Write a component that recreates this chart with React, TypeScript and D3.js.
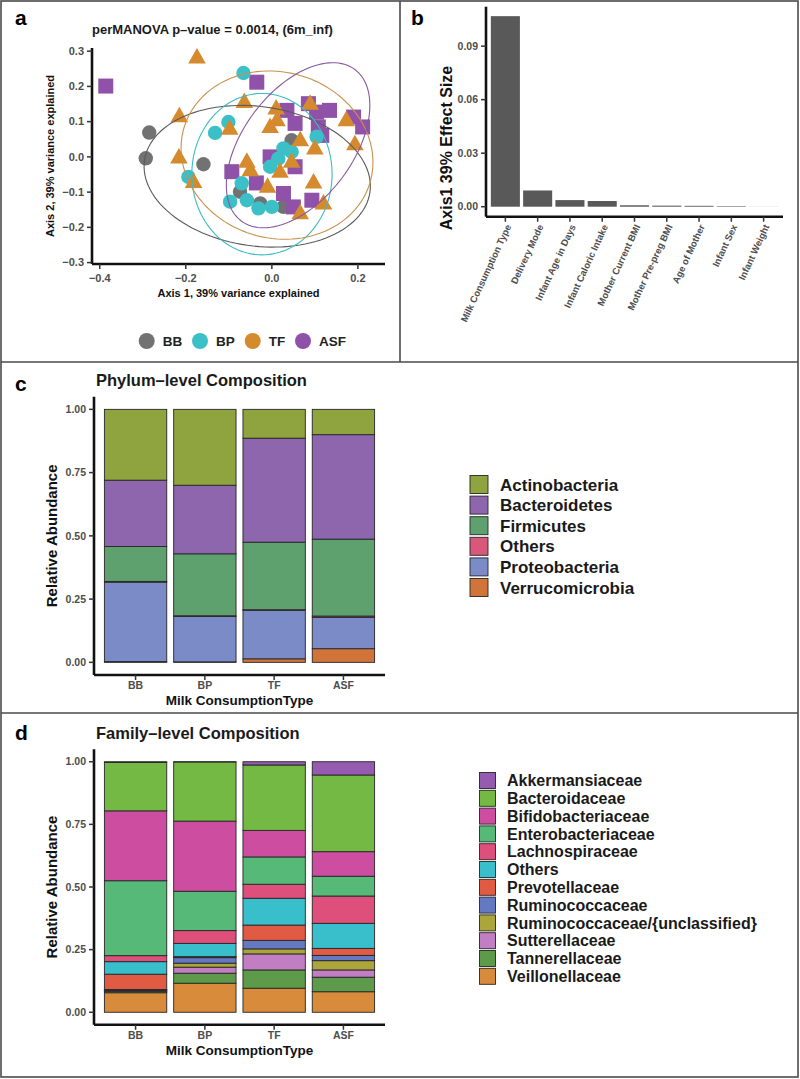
import React from 'react';
import * as d3 from 'd3';

const FONT = "'Liberation Sans', Arial, Helvetica, sans-serif";
const TICK_COL = '#4d4d4d';

// ---------- Panel a: PCoA ----------
const groups = ['BB', 'BP', 'TF', 'ASF'];
const groupColors = ['#727272', '#3cc0c8', '#d68a2e', '#8f52a8'];
const ellipseColors = ['#5a5a5a', '#3cbcc6', '#c8924a', '#87589e'];

const bbX = [-0.285, -0.293, -0.159, 0.046, -0.074, -0.027, 0.027];
const bbY = [0.069, -0.004, -0.021, 0.047, -0.099, -0.132, -0.142];
const bpX = [-0.066, -0.101, -0.132, -0.194, 0.104, 0.027, 0.046, -0.004, -0.07, -0.097, -0.058, -0.031, 0.0, 0.015];
const bpY = [0.238, 0.099, 0.068, -0.057, 0.057, 0.024, 0.014, -0.028, -0.075, -0.127, -0.123, -0.146, -0.142, -0.005];
const tfX = [-0.174, -0.215, -0.216, -0.182, -0.064, -0.098, 0.01, -0.004, 0.012, 0.089, 0.173, 0.193, 0.066, 0.1, -0.058, 0.046, 0.019, 0.097, -0.01, 0.12, 0.066, -0.05];
const tfY = [0.282, 0.115, -0.002, -0.071, 0.156, 0.08, 0.137, 0.085, 0.104, 0.151, 0.104, 0.036, 0.047, 0.024, -0.014, -0.014, -0.042, -0.073, -0.085, -0.132, -0.16, -0.038];
const asfX = [-0.386, -0.035, 0.035, 0.054, 0.085, 0.104, 0.134, 0.108, 0.19, 0.211, 0.116, -0.004, -0.093, 0.054, -0.036, 0.027, 0.093, 0.05];
const asfY = [0.201, 0.212, 0.132, 0.095, 0.151, 0.127, 0.132, 0.085, 0.113, 0.085, 0.061, 0.0, -0.042, -0.028, -0.074, -0.104, -0.123, -0.142];

// ellipse: centre, first and second semi-axis vectors (data units), order BB, BP, TF, ASF
const ellCX = [-0.034, -0.023, 0.012, 0.061];
const ellCY = [-0.055, -0.049, 0.005, 0.033];
const ellAX = [0.262, 0.163, 0.223, 0.132];
const ellAY = [-0.045, 0.0, -0.02, 0.215];
const ellBX = [-0.0225, 0.0, 0.0, 0.102];
const ellBY = [-0.196, 0.229, 0.238, -0.093];

const pcoaXTicks = [-0.4, -0.2, 0.0, 0.2];
const pcoaYTicks = [-0.3, -0.2, -0.1, 0.0, 0.1, 0.2, 0.3];

// ---------- Panel b: effect sizes ----------
const effectVars = ['Milk Consumption Type', 'Delivery Mode', 'Infant Age in Days', 'Infant Caloric Intake', 'Mother Current BMI', 'Mother Pre-preg BMI', 'Age of Mother', 'Infant Sex', 'Infant Weight'];
const effectSizes = [0.1068, 0.0091, 0.0037, 0.0032, 0.0008, 0.0006, 0.0005, 0.0003, 0.00005];
const effectTicks = [0.0, 0.03, 0.06, 0.09];

// ---------- Panel c: phylum composition ----------
const milkTypes = ['BB', 'BP', 'TF', 'ASF'];
const phyla = ['Actinobacteria', 'Bacteroidetes', 'Firmicutes', 'Others', 'Proteobacteria', 'Verrucomicrobia'];
const phylumColors = ['#8fa33e', '#8d66ae', '#5fa06f', '#d8577a', '#7b8bc7', '#d0743a'];
const actinobacteria = [0.280, 0.300, 0.114, 0.100];
const bacteroidetes = [0.262, 0.271, 0.411, 0.413];
const firmicutes = [0.138, 0.245, 0.267, 0.304];
const othersPhylum = [0.003, 0.002, 0.002, 0.005];
const proteobacteria = [0.314, 0.180, 0.192, 0.124];
const verrucomicrobia = [0.003, 0.002, 0.014, 0.054];
const phylumValues = [actinobacteria, bacteroidetes, firmicutes, othersPhylum, proteobacteria, verrucomicrobia];

// ---------- Panel d: family composition ----------
const families = ['Akkermansiaceae', 'Bacteroidaceae', 'Bifidobacteriaceae', 'Enterobacteriaceae', 'Lachnospiraceae', 'Others', 'Prevotellaceae', 'Ruminococcaceae', 'Ruminococcaceae/{unclassified}', 'Sutterellaceae', 'Tannerellaceae', 'Veillonellaceae'];
const familyColors = ['#955bb0', '#74b944', '#cd4ea0', '#57b978', '#de4f7c', '#38bfcb', '#e05a44', '#6579c2', '#aba53b', '#c27ec2', '#5d9a4a', '#d98b3c'];
const akkermansiaceae = [0.003, 0.001, 0.013, 0.053];
const bacteroidaceae = [0.193, 0.236, 0.261, 0.306];
const bifidobacteriaceae = [0.279, 0.280, 0.106, 0.098];
const enterobacteriaceae = [0.299, 0.157, 0.109, 0.079];
const lachnospiraceae = [0.024, 0.051, 0.056, 0.109];
const othersFamily = [0.050, 0.053, 0.107, 0.100];
const prevotellaceae = [0.061, 0.004, 0.061, 0.028];
const ruminococcaceae = [0.003, 0.022, 0.034, 0.021];
const ruminococcaceaeUnclassified = [0.002, 0.016, 0.020, 0.037];
const sutterellaceae = [0.002, 0.024, 0.064, 0.029];
const tannerellaceae = [0.006, 0.040, 0.073, 0.058];
const veillonellaceae = [0.078, 0.116, 0.096, 0.082];
const familyValues = [akkermansiaceae, bacteroidaceae, bifidobacteriaceae, enterobacteriaceae, lachnospiraceae, othersFamily, prevotellaceae, ruminococcaceae, ruminococcaceaeUnclassified, sutterellaceae, tannerellaceae, veillonellaceae];

const abundanceTicks = [0, 0.25, 0.5, 0.75, 1.0];

function Marker({ g, x, y }: { g: number; x: number; y: number }) {
  const c = groupColors[g];
  if (g <= 1) return <circle cx={x} cy={y} r={7.2} fill={c} />;
  if (g === 2) return <path d={`M${x},${y - 9.5} L${x + 8.8},${y + 6} L${x - 8.8},${y + 6} Z`} fill={c} />;
  return <rect x={x - 7.5} y={y - 7.5} width={15} height={15} fill={c} />;
}

function StackedPanel({ values, colors, y0, y1, title, titleY, tickY, xTitleY }: any) {
  const x = d3.scaleBand().domain(milkTypes).range([94, 385]).paddingInner(0.1).paddingOuter(0.15);
  const y = d3.scaleLinear().domain([-0.05, 1.05]).range([y1, y0]);
  const fmt = d3.format('.2f');
  const rects: any[] = [];
  milkTypes.forEach((m, gi) => {
    let cum = 0;
    for (let k = values.length - 1; k >= 0; k--) {
      const v = values[k][gi];
      rects.push(
        <rect key={`${m}-${k}`} x={x(m)} width={x.bandwidth()} y={y(cum + v)} height={y(cum) - y(cum + v)}
          fill={colors[k]} stroke="#262626" strokeWidth={0.9} />
      );
      cum += v;
    }
  });
  return (
    <g>
      <text x={96} y={titleY} fontSize={16.5} fontWeight="bold" fill="#1a1a1a">{title}</text>
      {rects}
      <line x1={94} x2={94} y1={y0} y2={y1} stroke="#111" strokeWidth={2.6} />
      <line x1={94} x2={385} y1={y1} y2={y1} stroke="#111" strokeWidth={2.6} />
      {abundanceTicks.map(t => (
        <g key={t}>
          <line x1={89} x2={94} y1={y(t)} y2={y(t)} stroke="#333" strokeWidth={1.5} />
          <text x={86} y={y(t)} dy="0.35em" textAnchor="end" fontSize={10.5} fontWeight="bold" fill={TICK_COL}>{fmt(t)}</text>
        </g>
      ))}
      {milkTypes.map(m => (
        <g key={m}>
          <line x1={x(m)! + x.bandwidth() / 2} x2={x(m)! + x.bandwidth() / 2} y1={y1} y2={y1 + 5} stroke="#333" strokeWidth={1.5} />
          <text x={x(m)! + x.bandwidth() / 2} y={tickY} textAnchor="middle" fontSize={10.5} fontWeight="bold" fill={TICK_COL}>{m}</text>
        </g>
      ))}
      <text x={239.5} y={xTitleY} textAnchor="middle" fontSize={13.5} fontWeight="bold" fill="#111">Milk ConsumptionType</text>
      <text transform={`translate(57,${(y0 + y1) / 2}) rotate(-90)`} textAnchor="middle" fontSize={15} fontWeight="bold" fill="#111">Relative Abundance</text>
    </g>
  );
}

export default function App() {
  // panel a scales
  const xA = d3.scaleLinear().domain([-0.418, 0.263]).range([92, 385]);
  const yA = d3.scaleLinear().domain([-0.304, 0.309]).range([264, 48]);
  const fmt1 = d3.format('.1f');
  const groupX = [bbX, bpX, tfX, asfX];
  const groupY = [bbY, bpY, tfY, asfY];
  const drawOrder = [0, 3, 1, 2];
  const ellipsePath = (i: number) => {
    const pts = d3.range(0, 121).map(k => {
      const t = (2 * Math.PI * k) / 120;
      const ex = ellCX[i] + Math.cos(t) * ellAX[i] + Math.sin(t) * ellBX[i];
      const ey = ellCY[i] + Math.cos(t) * ellAY[i] + Math.sin(t) * ellBY[i];
      return [xA(ex), yA(ey)] as [number, number];
    });
    return d3.line()(pts) + 'Z';
  };

  // panel b scales
  const xB = d3.scaleBand().domain(effectVars).range([486, 783]).paddingInner(0.1).paddingOuter(0.15);
  const yB = d3.scaleLinear().domain([-0.0056, 0.1121]).range([216.7, 6.7]);
  const fmt2 = d3.format('.2f');

  const legendC = phyla.map((p, i) => ({ p, i }));
  const legendD = families.map((f, i) => ({ f, i }));

  return (
    <svg width={800} height={1079} style={{ position: 'absolute', left: 0, top: 0, background: '#fff' }} fontFamily={FONT}>
      <rect x={0} y={0} width={800} height={1079} fill="#fff" />
      {/* frame */}
      <rect x={1} y={1} width={797} height={1076} fill="none" stroke="#4a4a4a" strokeWidth={1.6} />
      <line x1={1} x2={798} y1={362} y2={362} stroke="#4a4a4a" strokeWidth={1.6} />
      <line x1={1} x2={798} y1={713} y2={713} stroke="#4a4a4a" strokeWidth={1.6} />
      <line x1={400} x2={400} y1={1} y2={362} stroke="#4a4a4a" strokeWidth={1.6} />

      {/* panel labels */}
      <text x={15} y={25} fontSize={21} fontWeight="bold">a</text>
      <text x={411} y={25} fontSize={21} fontWeight="bold">b</text>
      <text x={15} y={391} fontSize={21} fontWeight="bold">c</text>
      <text x={15} y={740} fontSize={21} fontWeight="bold">d</text>

      {/* ---------- Panel a ---------- */}
      <text x={92} y={34} fontSize={13} fontWeight="bold" fill="#1a1a1a">perMANOVA p–value = 0.0014, (6m_inf)</text>
      {drawOrder.map(g => groupX[g].map((vx, k) => (
        <Marker key={`${g}-${k}`} g={g} x={xA(vx)} y={yA(groupY[g][k])} />
      )))}
      {groups.map((gname, i) => (
        <path key={gname} d={ellipsePath(i)} fill="none" stroke={ellipseColors[i]} strokeWidth={1.1} />
      ))}
      <line x1={92} x2={92} y1={48} y2={264} stroke="#111" strokeWidth={2.6} />
      <line x1={92} x2={385} y1={264} y2={264} stroke="#111" strokeWidth={2.6} />
      {pcoaYTicks.map(t => (
        <g key={t}>
          <line x1={87} x2={92} y1={yA(t)} y2={yA(t)} stroke="#333" strokeWidth={1.5} />
          <text x={84} y={yA(t)} dy="0.35em" textAnchor="end" fontSize={11} fontWeight="bold" fill={TICK_COL}>{fmt1(t)}</text>
        </g>
      ))}
      {pcoaXTicks.map(t => (
        <g key={t}>
          <line x1={xA(t)} x2={xA(t)} y1={264} y2={269} stroke="#333" strokeWidth={1.5} />
          <text x={xA(t)} y={282} textAnchor="middle" fontSize={11} fontWeight="bold" fill={TICK_COL}>{fmt1(t)}</text>
        </g>
      ))}
      <text x={238.5} y={297} textAnchor="middle" fontSize={11} fontWeight="bold" fill="#111">Axis 1, 39% variance explained</text>
      <text transform={`translate(54,156) rotate(-90)`} textAnchor="middle" fontSize={11} fontWeight="bold" fill="#111">Axis 2, 39% variance explained</text>
      {groups.map((gname, i) => {
        const cx = [146.7, 200, 252.7, 303][i];
        return (
          <g key={gname}>
            <circle cx={cx} cy={341} r={8} fill={groupColors[i]} />
            <text x={cx + 16} y={341} dy="0.36em" fontSize={13.5} fontWeight="bold" fill="#222">{gname}</text>
          </g>
        );
      })}

      {/* ---------- Panel b ---------- */}
      {effectVars.map((v, i) => (
        <rect key={v} x={xB(v)} width={xB.bandwidth()} y={yB(effectSizes[i])} height={yB(0) - yB(effectSizes[i])} fill="#595959" />
      ))}
      <line x1={486} x2={486} y1={6.7} y2={216.7} stroke="#111" strokeWidth={2.6} />
      <line x1={486} x2={783} y1={216.7} y2={216.7} stroke="#111" strokeWidth={2.6} />
      {effectTicks.map(t => (
        <g key={t}>
          <line x1={481} x2={486} y1={yB(t)} y2={yB(t)} stroke="#333" strokeWidth={1.5} />
          <text x={478} y={yB(t)} dy="0.35em" textAnchor="end" fontSize={10.5} fontWeight="bold" fill={TICK_COL}>{fmt2(t)}</text>
        </g>
      ))}
      {effectVars.map(v => {
        const cx = xB(v)! + xB.bandwidth() / 2;
        return (
          <g key={v}>
            <line x1={cx} x2={cx} y1={216.7} y2={221.7} stroke="#333" strokeWidth={1.5} />
            <text transform={`translate(${cx + 3},${225}) rotate(-65)`} textAnchor="end" dy="0.35em" fontSize={9.5} fontWeight="bold" fill={TICK_COL}>{v}</text>
          </g>
        );
      })}
      <text transform={`translate(452,148) rotate(-90)`} textAnchor="middle" fontSize={16} fontWeight="bold" fill="#111">Axis1 39% Effect Size</text>

      {/* ---------- Panel c ---------- */}
      <StackedPanel values={phylumValues} colors={phylumColors} y0={396.7} y1={675} title="Phylum–level Composition" titleY={386} tickY={689} xTitleY={705} />
      {legendC.map(({ p, i }) => {
        const cy = 484.5 + i * 20.6;
        return (
          <g key={p}>
            <rect x={470} y={cy - 9} width={18} height={18} fill={phylumColors[i]} stroke="#262626" strokeWidth={0.9} />
            <text x={500} y={cy} dy="0.36em" fontSize={17} fontWeight="bold" fill="#1a1a1a">{p}</text>
          </g>
        );
      })}

      {/* ---------- Panel d ---------- */}
      <StackedPanel values={familyValues} colors={familyColors} y0={749.2} y1={1024.8} title="Family–level Composition" titleY={739} tickY={1039} xTitleY={1055} />
      {legendD.map(({ f, i }) => {
        const cy = 780.5 + i * 17.8;
        return (
          <g key={f}>
            <rect x={479.5} y={cy - 8} width={16} height={16} fill={familyColors[i]} stroke="#262626" strokeWidth={0.9} />
            <text x={507} y={cy} dy="0.36em" fontSize={16} fontWeight="bold" fill="#1a1a1a">{f}</text>
          </g>
        );
      })}
    </svg>
  );
}
